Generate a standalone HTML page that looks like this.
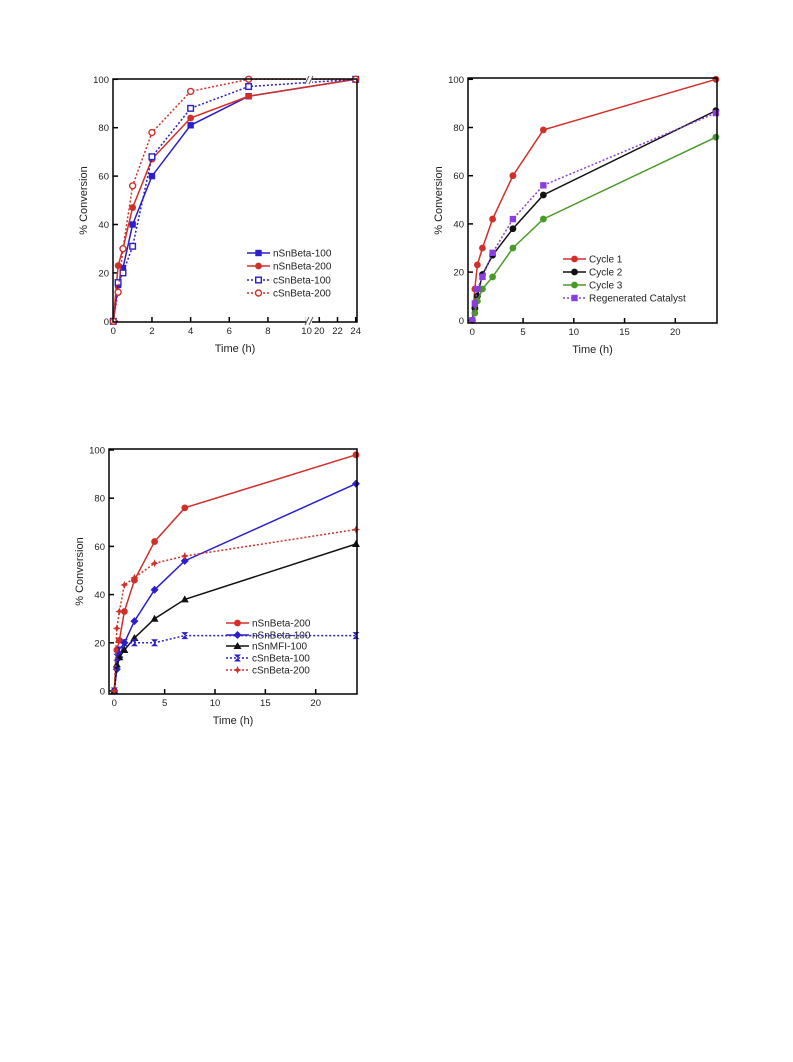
<!DOCTYPE html>
<html><head><meta charset="utf-8"><style>
body{margin:0;background:#fff;}
svg text{font-family:"Liberation Sans",Arial,sans-serif;fill:#222;}
</style></head><body>
<svg id="s" width="793" height="1057" viewBox="0 0 793 1057" xmlns="http://www.w3.org/2000/svg"></svg>
<script>
// ---- data ----
const times = [0,0.25,0.5,1,2,4,7,24];
const c1Names = ["nSnBeta-100","nSnBeta-200","cSnBeta-100","cSnBeta-200"];
const c1_nSnBeta100 = [0,15,22,40,60,81,93,100];
const c1_nSnBeta200 = [0,23,30,47,67,84,93,100];
const c1_cSnBeta100 = [0,16,20,31,68,88,97,100];
const c1_cSnBeta100t = [0,0.25,0.5,1,2,4,7,24];
const c1_cSnBeta200 = [0,12,30,56,78,95,100,100];
const c1XTicks = [0,2,4,6,8,10,20,22,24];
const yTicks = [0,20,40,60,80,100];
const c2Names = ["Cycle 1","Cycle 2","Cycle 3","Regenerated Catalyst"];
const c2_cycle1 = [0,13,23,30,42,60,79,100];
const c2_cycle2 = [0,5,10,19,27,38,52,87];
const c2_cycle3 = [0,3,8,13,18,30,42,76];
const c2_regen = [0,7,13,18,28,42,56,86];
const linXTicks = [0,5,10,15,20];
const c3Names = ["nSnBeta-200","nSnBeta-100","nSnMFI-100","cSnBeta-100","cSnBeta-200"];
const c3_nSnBeta200 = [0,17,21,33,46,62,76,98];
const c3_nSnBeta100 = [0,9,14,20,29,42,54,86];
const c3_nSnMFI100 = [0,11,14,17,22,30,38,61];
const c3_cSnBeta100 = [0,14,17,20,20,20,23,23];
const c3_cSnBeta200 = [0,26,33,44,47,53,56,67];

const NS="http://www.w3.org/2000/svg";
const svg=document.getElementById('s');
function el(tag,attrs,parent){const e=document.createElementNS(NS,tag);for(const k in attrs)e.setAttribute(k,attrs[k]);(parent||svg).appendChild(e);return e;}
const RED="#d1302a",BLUE="#2a1fc8",BLK="#111",GRN="#4a9a2a",PUR="#8a3ee0";

function marker(g,type,x,y,color){
  let m;
  if(type==='sq') m=el('rect',{x:x-3.2,y:y-3.2,width:6.4,height:6.4,fill:color},g);
  else if(type==='osq') m=el('rect',{x:x-2.8,y:y-2.8,width:5.6,height:5.6,fill:'#fff',stroke:color,'stroke-width':1.4},g);
  else if(type==='ci') m=el('circle',{cx:x,cy:y,r:3.4,fill:color},g);
  else if(type==='oci') m=el('circle',{cx:x,cy:y,r:3,fill:'#fff',stroke:color,'stroke-width':1.4},g);
  else if(type==='di') m=el('path',{d:`M${x} ${y-4}L${x+4} ${y}L${x} ${y+4}L${x-4} ${y}Z`,fill:color},g);
  else if(type==='tri') m=el('path',{d:`M${x} ${y-4}L${x+4} ${y+3}L${x-4} ${y+3}Z`,fill:color},g);
  else if(type==='hg') m=el('path',{d:`M${x-3.5} ${y-3.5}L${x+3.5} ${y-3.5}L${x-3.5} ${y+3.5}L${x+3.5} ${y+3.5}Z`,fill:color},g);
  else if(type==='st') m=el('path',{d:`M${x} ${y-4}L${x+1.2} ${y-1.2}L${x+4} ${y}L${x+1.2} ${y+1.2}L${x} ${y+4}L${x-1.2} ${y+1.2}L${x-4} ${y}L${x-1.2} ${y-1.2}Z`,fill:color},g);
  
  
}

function chart(cfg){
  const g=el('g',{});
  
  
  const {L,R,T,B,xs,ys}=cfg;
  // y ticks
  yTicks.forEach(v=>{const y=ys(v);
    el('line',{x1:L,x2:L+5,y1:y,y2:y,stroke:'#000','stroke-width':1.5},g);
    const t=el('text',{x:L-4,y:y+3.5,'font-size':9.5,'text-anchor':'end'},g);t.textContent=v;
    });
  cfg.xTicks.forEach(v=>{const x=xs(v);
    el('line',{x1:x,x2:x,y1:B,y2:B-5,stroke:'#000','stroke-width':1.5},g);
    const t=el('text',{x:x,y:B+12,'font-size':9.5,'text-anchor':'middle'},g);t.textContent=v;
    });
  const yt=el('text',{x:0,y:0,'font-size':11,'text-anchor':'middle',transform:`translate(${L-26},${(T+B)/2}) rotate(-90)`},g);
  yt.textContent='% Conversion';
  const xt=el('text',{x:(L+R)/2,y:B+30,'font-size':11,'text-anchor':'middle'},g);
  xt.textContent='Time (h)';
  cfg.series.forEach((s,i)=>{
    const pts=s.vals.map((v,j)=>[xs(s.t[j]),ys(v)]);
    const pl=el('polyline',{points:pts.map(p=>p.join(',')).join(' '),fill:'none',stroke:s.color,'stroke-width':1.5,'stroke-dasharray':s.dash?'2,2':'none'},g);
    
    
    pts.forEach(p=>marker(g,s.m,p[0],p[1],s.color));
    const ly=cfg.legY[i];
    el('line',{x1:cfg.legX,x2:cfg.legX+23,y1:ly,y2:ly,stroke:s.color,'stroke-width':1.5,'stroke-dasharray':s.dash?'2,2':'none'},g);
    marker(g,s.m,cfg.legX+11.5,ly,s.color);
    const lt=el('text',{x:cfg.legX+26,y:ly+3.5,'font-size':10},g);lt.textContent=s.name;
    
  });
  el('rect',{x:L,y:T,width:R-L,height:B-T,fill:'none',stroke:'#000','stroke-width':1.5},g);
  if(cfg.brk){const bx=cfg.brk;
    el('rect',{x:bx-3,y:T-3,width:6,height:8,fill:'#fff'},g);
    el('rect',{x:bx-3,y:B-5,width:6,height:8,fill:'#fff'},g);
    [[T-3,T+5],[B-5,B+3]].forEach(([a,b])=>{
      el('line',{x1:bx-4,y1:b,x2:bx,y2:a,stroke:'#555','stroke-width':1},g);
      el('line',{x1:bx,y1:b,x2:bx+4,y2:a,stroke:'#555','stroke-width':1},g);});
  }
}

// chart 1 (broken axis)
const c1xs=t=>t<=10?113.3+t*19.33:319.3+(t-20)*9.1;
chart({name:'chart-conversion-broken-axis',L:113,R:357,T:79,B:322,
  xs:t=>t>10&&t<20?309:c1xs(t),ys:v=>321.3-v*2.42,xTicks:c1XTicks,brk:309,
  legX:247,legY:[253,266,280,293],
  series:[
    {name:c1Names[0],vals:c1_nSnBeta100,t:times,color:BLUE,m:'sq'},
    {name:c1Names[1],vals:c1_nSnBeta200,t:times,color:RED,m:'ci'},
    {name:c1Names[2],vals:c1_cSnBeta100,t:c1_cSnBeta100t,color:BLUE,m:'osq',dash:true},
    {name:c1Names[3],vals:c1_cSnBeta200,t:times,color:RED,m:'oci',dash:true}]});
// chart 2
chart({name:'chart-catalyst-cycles',L:468,R:717,T:78,B:323,
  xs:t=>472.3+t*10.15,ys:v=>320.3-v*2.41,xTicks:linXTicks,
  legX:563,legY:[259,272,285,298],
  series:[
    {name:c2Names[0],vals:c2_cycle1,t:times,color:RED,m:'ci'},
    {name:c2Names[1],vals:c2_cycle2,t:times,color:BLK,m:'ci'},
    {name:c2Names[2],vals:c2_cycle3,t:times,color:GRN,m:'ci'},
    {name:c2Names[3],vals:c2_regen,t:times,color:PUR,m:'sq',dash:true}]});
// chart 3
chart({name:'chart-catalyst-comparison',L:109,R:357,T:449,B:694,
  xs:t=>114.3+t*10.07,ys:v=>691-v*2.41,xTicks:linXTicks,
  legX:226,legY:[623,635,646,658,670],
  series:[
    {name:c3Names[0],vals:c3_nSnBeta200,t:times,color:RED,m:'ci'},
    {name:c3Names[1],vals:c3_nSnBeta100,t:times,color:BLUE,m:'di'},
    {name:c3Names[2],vals:c3_nSnMFI100,t:times,color:BLK,m:'tri'},
    {name:c3Names[3],vals:c3_cSnBeta100,t:times,color:BLUE,m:'hg',dash:true},
    {name:c3Names[4],vals:c3_cSnBeta200,t:times,color:RED,m:'st',dash:true}]});
</script>
</body></html>
